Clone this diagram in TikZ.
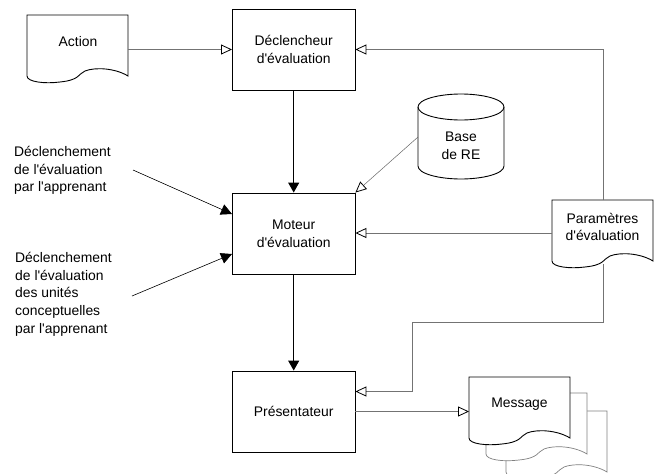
\documentclass[tikz,border=0pt]{standalone}
\usepackage{fontspec}
\setmainfont[Ligatures=TeXOff]{Liberation Sans}
\usetikzlibrary{arrows.meta}
\newcommand{\docshape}{(0,0) -- (101,0) -- (101,61) .. controls (88,53) and (68,52) .. (58,56) .. controls (51,59) and (53,65) .. (33,67) .. controls (18,69) and (0,67) .. (0,61) -- cycle}
\tikzset{
  x=1pt,y=-1pt,
  box/.style={draw,line width=0.9pt,minimum width=122.5pt,minimum height=81pt,inner sep=0pt,align=center,font=\fontsize{13.9}{17.7}\selectfont},
  lbl/.style={inner sep=0pt,align=left,anchor=north west,font=\fontsize{13.9}{17.7}\selectfont},
  ctr/.style={inner sep=0pt,align=center,font=\fontsize{13.9}{17.7}\selectfont},
  solidarr/.style={draw,line width=1pt,-{Triangle[length=10pt,width=11pt]}},
  thinarr/.style={draw,line width=0.6pt,-{Triangle[length=11pt,width=11pt]}},
  dotarr/.style={draw=black!55,line width=0.9pt,-{Triangle[open,length=11pt,width=10pt,black,line width=.8pt,sep=0pt]}},
  docline/.style={draw,line width=0.9pt,fill=white},
  backdoc/.style={draw=black!50,line width=0.7pt,fill=white},
}
\begin{document}
\begin{tikzpicture}
\useasboundingbox (0,0) rectangle (657,474);
% back pages of Message
\begin{scope}
\clip (0,0) rectangle (657,474);
\path[backdoc,shift={(506,411)}] \docshape;
\end{scope}
\path[backdoc,shift={(486,393)}] \docshape;
% nodes
\node[box] (decl) at (293.7,49.5) {Déclencheur\\d'évaluation};
\node[box] (moteur) at (293.7,233.5) {Moteur\\d'évaluation};
\node[box] (pres) at (293.7,411.5) {Présentateur};
% documents
\path[docline,shift={(27,15)}] \docshape;
\coordinate (actionE) at (128,49.5);
\node[ctr] (action) at (78,42) {Action};
\path[docline,shift={(552,200)}] \docshape;
\node[ctr] (param) at (602.5,227) {Paramètres\\d'évaluation};
\coordinate (paramW) at (552,233);
\coordinate (paramT) at (603,200);
\coordinate (paramB) at (603,264);
\path[docline,shift={(469,377)}] \docshape;
\node[ctr] (msg) at (519.5,404) {Message};
\coordinate (msgW) at (469,411.5);
% cylinder
\path[docline] (418,107) -- (418,166) .. controls (418,174) and (440,179) .. (461,179) .. controls (482,179) and (504,174) .. (504,166) -- (504,107) .. controls (504,99) and (482,94) .. (461,94) .. controls (440,94) and (418,99) .. (418,107) -- cycle;
\draw[line width=0.9pt] (418,107) .. controls (418,115) and (440,120) .. (461,120) .. controls (482,120) and (504,115) .. (504,107);
\node[ctr] (base) at (461,146) {Base\\de RE};
\coordinate (baseW) at (418,137);
% labels
\node[lbl] (l1) at (14,146) {Déclenchement\\de l'évaluation\\par l'apprenant};
\node[lbl] (l2) at (15,252) {Déclenchement\\de l'évaluation\\des unités\\conceptuelles\\par l'apprenant};
\coordinate (l1e) at (133,170);
\coordinate (l2e) at (132,296);
% connectors
\path[solidarr] (decl) -- (moteur);
\path[solidarr] (moteur) -- (pres);
\path[thinarr] (l1e) -- (moteur.west |- 0,214);
\path[thinarr] (l2e) -- (moteur.west |- 0,254);
\path[dotarr] (actionE) -- (decl.west |- actionE);
\path[dotarr] (paramT) |- (decl.east |- actionE);
\path[dotarr] (paramW) -- (moteur.east |- paramW);
\path[dotarr] (paramB) |- (412,322) |- (pres.east |- 0,391.5);
\path[dotarr] (pres.east |- msgW) -- (msgW);
\draw[line width=0.5pt,black!60,-{Triangle[open,length=11pt,width=10pt,black,line width=.8pt]}] (baseW) -- (moteur.north east);
\end{tikzpicture}
\end{document}
